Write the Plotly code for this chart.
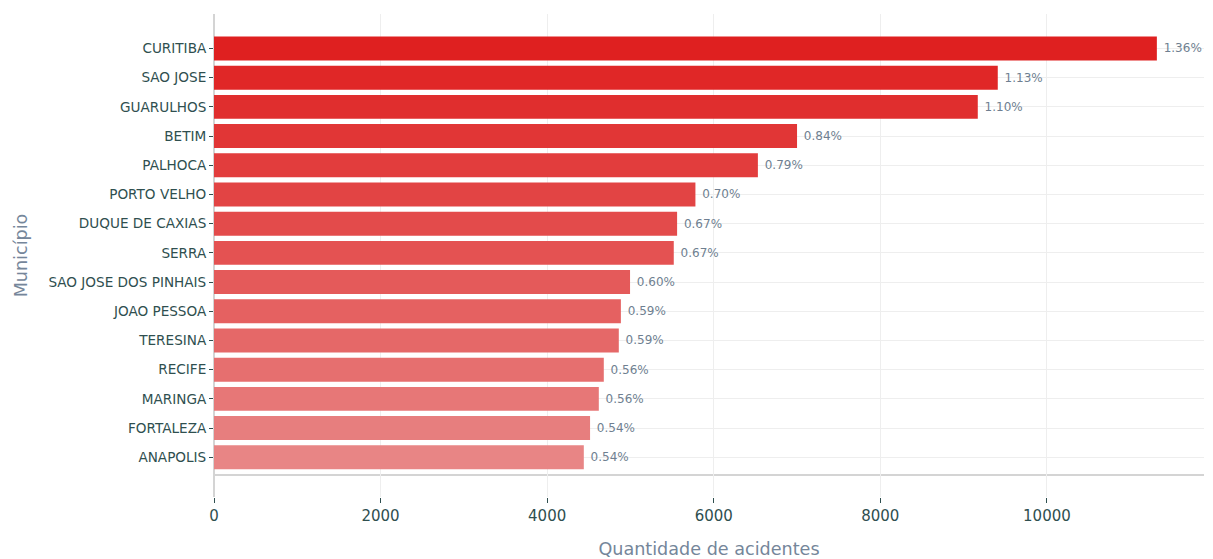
import plotly.graph_objects as go

# Municípios com mais acidentes (ordem decrescente)
municipios = [
    "CURITIBA", "SAO JOSE", "GUARULHOS", "BETIM", "PALHOCA", "PORTO VELHO",
    "DUQUE DE CAXIAS", "SERRA", "SAO JOSE DOS PINHAIS", "JOAO PESSOA",
    "TERESINA", "RECIFE", "MARINGA", "FORTALEZA", "ANAPOLIS",
]
acidentes = [11320, 9410, 9170, 7000, 6530, 5780, 5560, 5520, 4995,
             4885, 4860, 4680, 4620, 4515, 4440]
percentual = [1.36, 1.13, 1.10, 0.84, 0.79, 0.70, 0.67, 0.67, 0.60,
              0.59, 0.59, 0.56, 0.56, 0.54, 0.54]
ticks_x = [0, 2000, 4000, 6000, 8000, 10000]

# gradiente de vermelho: mais forte no topo, mais claro embaixo
c0, c1 = (223, 32, 32), (232, 133, 133)
n = len(municipios)
cores = [
    "rgb({},{},{})".format(*[round(a + (b - a) * i / (n - 1)) for a, b in zip(c0, c1)])
    for i in range(n)
]

# desenha de baixo para cima
ordem = list(range(n))[::-1]
fig = go.Figure(go.Bar(
    x=[acidentes[i] for i in ordem],
    y=[municipios[i] for i in ordem],
    orientation="h",
    marker=dict(color=[cores[i] for i in ordem], line=dict(width=0)),
    text=[f" {percentual[i]:.2f}%" for i in ordem],
    textposition="outside",
    textfont=dict(family="DejaVu Sans", size=12, color="#6f7f91"),
    cliponaxis=False,
    hoverinfo="x+y",
))

fig.update_layout(
    width=1213, height=559,
    margin=dict(l=214, r=9, t=14, b=62),
    plot_bgcolor="white", paper_bgcolor="white",
    font=dict(family="DejaVu Sans", color="#2f4f4f"),
    bargap=0.18,
    showlegend=False,
    xaxis=dict(
        range=[0, max(acidentes) * 1.05],
        tickvals=ticks_x, ticktext=[str(v) for v in ticks_x],
        showgrid=True, gridcolor="#eeeeee", gridwidth=1,
        zeroline=True, zerolinecolor="#d4d4d4", zerolinewidth=2,
        showline=False, automargin=False,
        ticks="outside", ticklen=5, tickcolor="#2f4f4f",
        tickfont=dict(size=15, color="#2f4f4f"),
        title=dict(text="Quantidade de acidentes", standoff=19,
                   font=dict(size=17.6, color="#75869a")),
    ),
    yaxis=dict(
        range=[-1.36, n - 1 + 1.18],
        showgrid=True, gridcolor="#eeeeee", gridwidth=1,
        showline=False, automargin=False,
        ticks="outside", ticklen=4, tickcolor="#2f4f4f",
        tickfont=dict(size=13.6, color="#2f4f4f"),
        title=dict(text="Município", standoff=16,
                   font=dict(size=17.6, color="#75869a")),
    ),
    shapes=[dict(
        type="line", xref="paper", yref="y",
        x0=0, x1=1, y0=-0.61, y1=-0.61,
        line=dict(color="#d4d4d4", width=2),
        layer="below",
    )],
)

fig.write_html("out.html")
